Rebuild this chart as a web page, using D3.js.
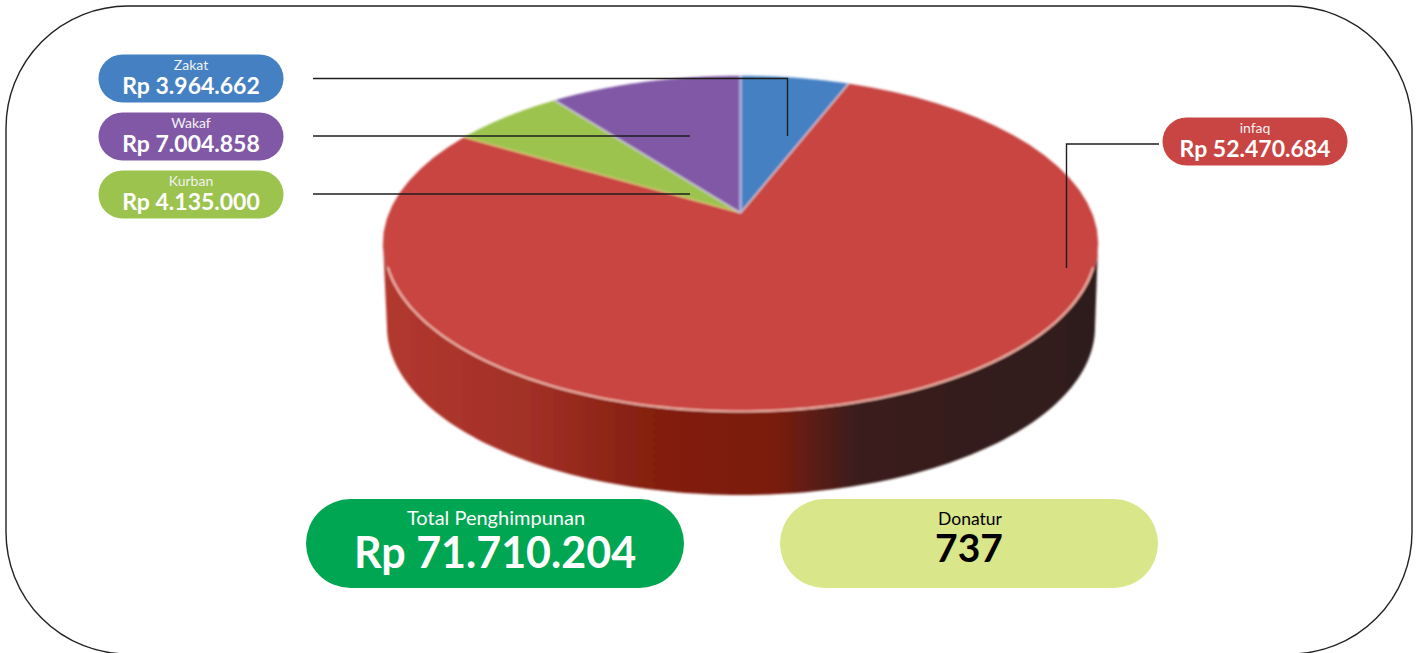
<!DOCTYPE html>
<html lang="en">
<head>
<meta charset="utf-8"/>
<title>Penghimpunan</title>
<script src="https://d3js.org/d3.v7.min.js"></script>
<style>
  html, body { margin: 0; padding: 0; background: #fff; }
  svg { display: block; }
  text { font-family: Lato, "Open Sans", sans-serif; text-anchor: middle; }
</style>
</head>
<body>
<div id="chart"></div>
<script>
  const width = 1419;
  const height = 653;

  // data, clockwise from the top of the pie
  const categories = ["Zakat", "infaq", "Kurban", "Wakaf"];
  const values = [3964662, 52470684, 4135000, 7004858];
  const amounts = ["Rp 3.964.662", "Rp 52.470.684", "Rp 4.135.000", "Rp 7.004.858"];
  const colors = ["#4480c2", "#c84543", "#9cc34e", "#8158a6"];
  const totalLabels = ["Total Penghimpunan", "Donatur"];
  const totalValues = ["Rp 71.710.204", "737"];

  const svg = d3.select("#chart").append("svg")
    .attr("width", width)
    .attr("height", height);

  const defs = svg.append("defs");
  defs.append("filter").attr("id", "soft")
    .append("feGaussianBlur").attr("stdDeviation", 0.8);

  const sideGrad = defs.append("linearGradient")
    .attr("id", "side")
    .attr("gradientUnits", "userSpaceOnUse")
    .attr("x1", 387).attr("x2", 1095).attr("y1", 0).attr("y2", 0);
  [[0, "#b2382f"], [0.2, "#a23027"], [0.37, "#84200f"], [0.55, "#7a1a0e"], [0.66, "#3c1f1c"], [1, "#2e1a1c"]]
    .forEach(s => sideGrad.append("stop").attr("offset", s[0]).attr("stop-color", s[1]));

  // outer frame, its bottom edge falls just off the page
  svg.append("rect")
    .attr("x", 6).attr("y", 6)
    .attr("width", 1406).attr("height", 648)
    .attr("rx", 122).attr("ry", 122)
    .attr("fill", "none")
    .attr("stroke", "#222")
    .attr("stroke-width", 1.4);

  // ellipse space -> page
  const xTop = d3.scaleLinear().domain([-1, 1]).range([383, 1098]);
  const yTop = d3.scaleLinear().domain([-1, 1]).range([412, 76]);
  const xBase = d3.scaleLinear().domain([-1, 1]).range([387, 1095]);
  const yBase = d3.scaleLinear().domain([-1, 1]).range([495, 159]);

  // the pie is tilted, so its centre sits above the middle of the ellipse
  const tilt = 0.185;
  const project = (a) => {
    const u = Math.sin(a), v = Math.cos(a);
    const k = 1 + tilt * v;
    return [u * Math.sqrt(1 - tilt * tilt) / k, (v + tilt) / k];
  };
  const topPoint = (a) => { const p = project(a); return [xTop(p[0]), yTop(p[1])]; };
  const center = [xTop(0), yTop(tilt)];

  const line = d3.line();
  const arcs = d3.pie().sort(null)(values);

  const wedge = (d) => {
    const steps = d3.range(0, 61).map(i => topPoint(d.startAngle + (d.endAngle - d.startAngle) * i / 60));
    return line([center, ...steps]) + "Z";
  };

  const pie = svg.append("g").attr("filter", "url(#soft)");

  // wall of the pie: lower half of the base ellipse closed over the top ellipse
  const half = d3.range(0, 121).map(i => i / 120 * Math.PI);
  const wall = [
    ...half.map(t => [xBase(Math.cos(t)), yBase(-Math.sin(t))]),
    ...half.slice().reverse().map(t => [xTop(Math.cos(t)), yTop(-Math.sin(t))])
  ];
  pie.append("path")
    .attr("d", line(wall) + "Z")
    .attr("fill", "url(#side)");

  pie.selectAll("path.slice")
    .data(arcs)
    .enter()
    .append("path")
    .attr("class", "slice")
    .attr("d", wedge)
    .attr("fill", (d, i) => colors[i])
    .attr("stroke", (d, i) => colors[i])
    .attr("stroke-width", 0.5);

  // light seams between the slices, the one at the top is the widest
  const seamColor = ["#e8d8dc", "#f0c88a", "#d8d8dc", "#b4b8e2"];
  const seamWidth = [1.6, 1.4, 1.8, 3];
  pie.selectAll("path.seam")
    .data(arcs)
    .enter()
    .append("path")
    .attr("class", "seam")
    .attr("d", d => line([center, topPoint(d.endAngle)]))
    .attr("fill", "none")
    .attr("stroke", (d, i) => seamColor[i])
    .attr("stroke-opacity", 0.8)
    .attr("stroke-width", (d, i) => seamWidth[i]);

  // pale rim on the front edge
  const rim = d3.range(0, 121).map(i => {
    const t = 0.14 + i / 120 * (Math.PI - 0.28);
    return [xTop(Math.cos(t) * 0.996), yTop(-Math.sin(t) * 0.996)];
  });
  pie.append("path")
    .attr("d", line(rim))
    .attr("fill", "none")
    .attr("stroke", "#f3bcae")
    .attr("stroke-width", 1.8);

  // label pills, [category index, x, y]
  const pillRows = [[0, 98.5, 54.5], [3, 98.5, 112.5], [2, 98.5, 170.5], [1, 1162.5, 117.5]];
  const pills = svg.selectAll("g.pill")
    .data(pillRows)
    .enter()
    .append("g")
    .attr("class", "pill")
    .attr("transform", d => "translate(" + d[1] + "," + d[2] + ")");

  pills.append("rect")
    .attr("width", 185)
    .attr("height", 48)
    .attr("rx", 24)
    .attr("fill", d => colors[d[0]]);

  pills.append("text")
    .attr("x", 92.5)
    .attr("y", 15)
    .attr("font-size", 14)
    .attr("fill", "#f2f2f2")
    .text(d => categories[d[0]]);

  pills.append("text")
    .attr("x", 92.5)
    .attr("y", 39)
    .attr("font-size", 23)
    .attr("font-weight", 700)
    .attr("fill", "#fff")
    .text(d => amounts[d[0]]);

  // leader lines
  const leaders = [
    [[313, 78.5], [787.5, 78.5], [787.5, 136]],
    [[313, 136], [690, 136]],
    [[313, 194], [690, 194]],
    [[1159, 144], [1066.5, 144], [1066.5, 268]]
  ];
  svg.selectAll("path.leader")
    .data(leaders)
    .enter()
    .append("path")
    .attr("class", "leader")
    .attr("d", line)
    .attr("fill", "none")
    .attr("stroke", "#1e1e1e")
    .attr("stroke-width", 1.4);

  // totals
  const totalFill = ["#00a651", "#d9e689"];
  const totalInk = ["#fff", "#000"];
  const totalX = [306, 780];
  const totals = svg.selectAll("g.total")
    .data(totalValues)
    .enter()
    .append("g")
    .attr("class", "total")
    .attr("transform", (d, i) => "translate(" + totalX[i] + ",499)");

  totals.append("rect")
    .attr("width", 378)
    .attr("height", 89)
    .attr("rx", 44.5)
    .attr("fill", (d, i) => totalFill[i]);

  totals.append("text")
    .attr("x", 190)
    .attr("y", 26)
    .attr("font-size", (d, i) => i ? 17.5 : 20)
    .attr("fill", (d, i) => totalInk[i])
    .text((d, i) => totalLabels[i]);

  totals.append("text")
    .attr("x", 189)
    .attr("y", (d, i) => i ? 63 : 69)
    .attr("font-size", (d, i) => i ? 39 : 43)
    .attr("font-weight", 700)
    .attr("fill", (d, i) => totalInk[i])
    .text(d => d);
</script>
</body>
</html>
